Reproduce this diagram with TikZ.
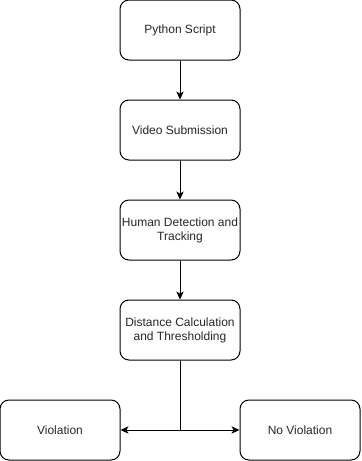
\documentclass[tikz,border=0pt]{standalone}
\usepackage{fontspec}
\setmainfont{Liberation Sans}
\usetikzlibrary{arrows.meta}
\begin{document}
\begin{tikzpicture}[x=0.75pt,y=-0.75pt,
  flowbox/.style={draw=black,line width=0.75pt,rounded corners=6.75pt,
    minimum width=90pt,minimum height=45pt,inner sep=1pt,align=center,
    font=\fontsize{9}{10.5}\selectfont,text=black!85},
  flow/.style={draw=black,line width=0.75pt,
    -{Stealth[length=6pt,width=5.5pt,inset=1.6pt]}}]
  \useasboundingbox (0,0) rectangle (361,461);
  \node[flowbox] (py)   at (180,30)  {Python Script};
  \node[flowbox] (vid)  at (180,130) {Video Submission};
  \node[flowbox] (hum)  at (180,230) {Human Detection and\\Tracking};
  \node[flowbox] (dist) at (180,330) {Distance Calculation\\and Thresholding};
  \node[flowbox] (vio)  at (60,430)  {Violation};
  \node[flowbox] (nov)  at (300,430) {No Violation};
  \coordinate (split) at (180,430);
  \draw[flow] (py) -- (vid);
  \draw[flow] (vid) -- (hum);
  \draw[flow] (hum) -- (dist);
  \draw[line width=0.75pt] (dist) -- (split);
  \draw[flow] (split) -- (vio);
  \draw[flow] (split) -- (nov);
\end{tikzpicture}
\end{document}
